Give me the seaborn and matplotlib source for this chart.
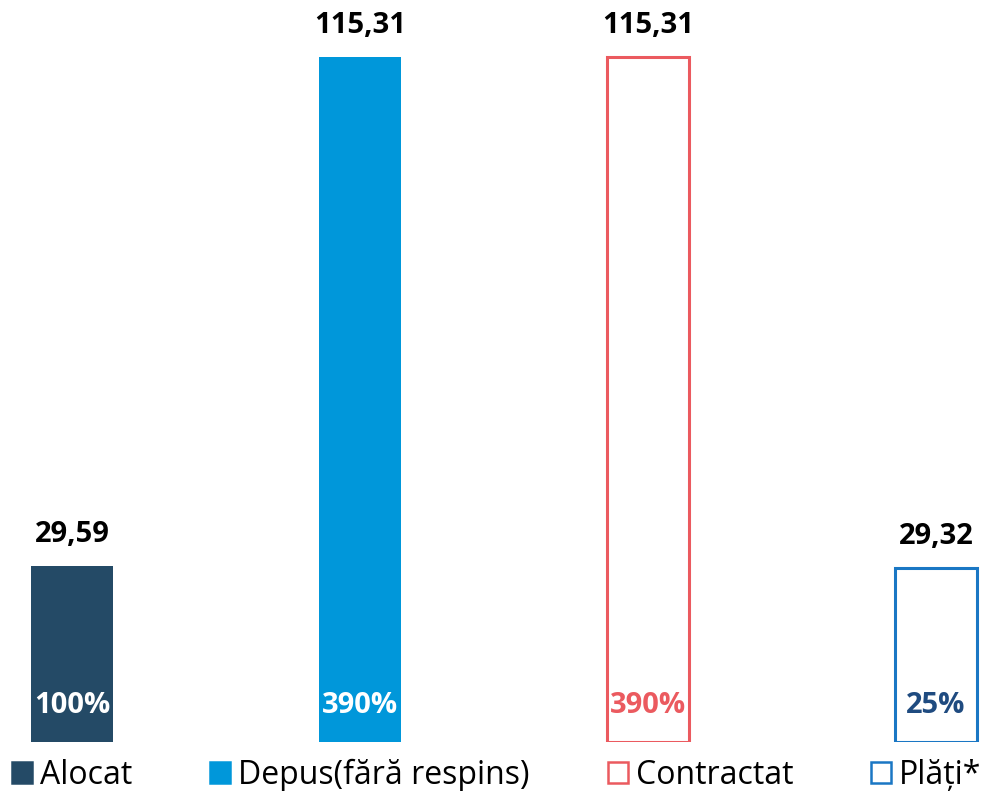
import matplotlib
matplotlib.use('Agg')
import matplotlib.pyplot as plt
import pandas as pd
import seaborn as sns
from matplotlib.patches import Patch

categorii = ['Alocat', 'Depus(fără respins)', 'Contractat', 'Plăți*']
valori = [29.59, 115.31, 115.31, 29.32]
procente = ['100%', '390%', '390%', '25%']

culori_fill = ['#244A66', '#0097DA', 'white', 'white']
culori_edge = ['#244A66', '#0097DA', '#EB5A5F', '#1A77C4']
culori_proc = ['white', 'white', '#EB5A5F', '#1F4B80']


def plot_bare(df):
    sns.set_theme(style='white')
    plt.rcParams['font.family'] = ['Open Sans', 'DejaVu Sans']
    fig = plt.figure(figsize=(9.84, 7.91), dpi=100)
    ax = fig.add_axes([0, 49 / 791, 1, 742 / 791])
    sns.barplot(data=df, x='categorie', y='valoare', hue='categorie',
                palette=culori_fill, width=0.285, legend=False, ax=ax,
                saturation=1)
    for i, p in enumerate(ax.patches):
        p.set_facecolor(culori_fill[i])
        if culori_fill[i] == 'white':
            p.set_edgecolor(culori_edge[i])
            p.set_linewidth(2.2)
        else:
            p.set_linewidth(0)
        x = p.get_x() + p.get_width() / 2
        h = p.get_height()
        ax.text(x, h + 5.3, f'{valori[i]:.2f}'.replace('.', ','),
                ha='center', va='center', fontsize=21, fontweight='bold',
                color='black')
        ax.text(x, 6.2, procente[i], ha='center', va='center',
                fontsize=21, fontweight='bold', color=culori_proc[i])
    ax.set_xlim(-0.25, 3.1667)
    ax.set_ylim(0, 124.9)
    ax.axis('off')

    handles = [Patch(facecolor=culori_fill[i], edgecolor=culori_edge[i],
                     linewidth=1.8) for i in range(4)]
    fig.legend(handles, categorii, loc='center left',
               bbox_to_anchor=(12 / 984, 1 - 775 / 791), ncol=4,
               frameon=False, fontsize=23, handlelength=0.62,
               handleheight=0.62, handletextpad=0.25, columnspacing=2.45,
               borderpad=0, borderaxespad=0, labelcolor='black')
    fig.savefig('out.png', dpi=100)


if __name__ == '__main__':
    df = pd.DataFrame({'categorie': categorii, 'valoare': valori})
    plot_bare(df)
